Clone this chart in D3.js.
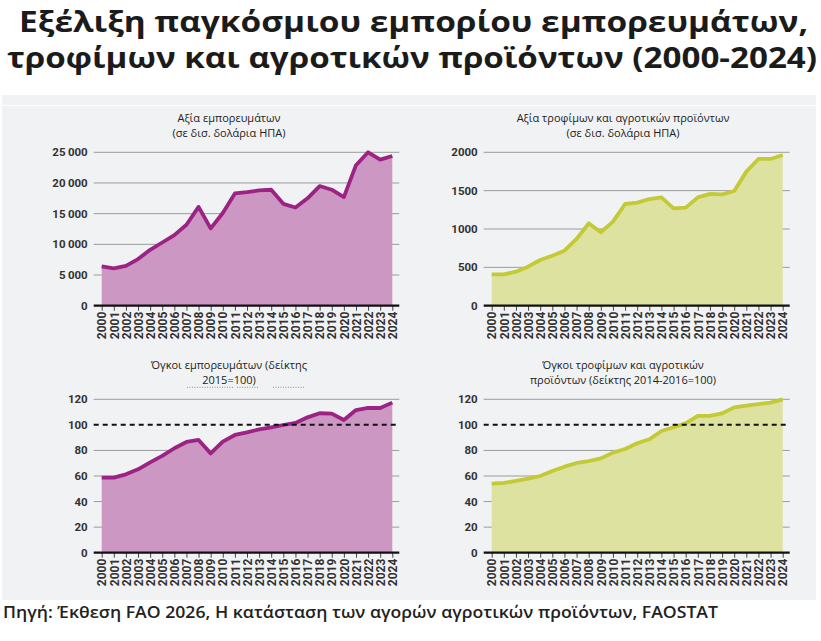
<!DOCTYPE html>
<html>
<head>
<meta charset="utf-8">
<script src="https://cdn.jsdelivr.net/npm/d3@7"></script>
<style>
  body { margin: 0; background: #fff; }
  svg { display: block; }
</style>
</head>
<body>
<div id="chart"></div>
<script>
/*
 * Data.
 */
var years = d3.range(2000, 2025)
  , goodsValue = [6400, 6100, 6500, 7600, 9100, 10300, 11500, 13200, 16100, 12600,
      15100, 18300, 18500, 18800, 18900, 16600, 16000, 17500, 19500, 18900,
      17700, 22900, 25000, 23800, 24400]
  , agriValue = [409, 409, 443, 509, 596, 652, 717, 870, 1074, 957,
      1096, 1326, 1343, 1391, 1413, 1270, 1278, 1413, 1457, 1452,
      1496, 1748, 1913, 1913, 1965]
  , goodsVolume = [58.7, 58.7, 61.3, 65.2, 70.7, 75.7, 81.7, 86.6, 88.2, 77.7,
      86.9, 92.1, 94.2, 96.5, 98.1, 99.9, 101.5, 105.9, 109.1, 108.8,
      103.8, 111.6, 113.2, 113.2, 117.4]
  , agriVolume = [54, 54.6, 56.1, 57.9, 60, 63.9, 67.3, 70.2, 71.7, 73.8,
      78.3, 81.1, 85.6, 88.7, 95.2, 98.1, 101.2, 107, 107, 109,
      113.7, 115, 116.3, 117.4, 120];

var valueTicks = [0, 5000, 10000, 15000, 20000, 25000]
  , agriTicks = [0, 500, 1000, 1500, 2000]
  , indexTicks = [0, 20, 40, 60, 80, 100, 120];

var width = 821
  , height = 641
  , purple = { fill: '#cd97c4', line: '#9c2384' }
  , green = { fill: '#dde2a0', line: '#c3ca36' }
  , numFont = '"Liberation Sans Narrow", "Roboto", sans-serif';

var svg = d3.select('#chart').append('svg')
  .attr('width', width)
  .attr('height', height);

/*
 * Background.
 */
svg.append('rect')
  .attr('x', 2).attr('y', 95)
  .attr('width', 814).attr('height', 505)
  .attr('fill', '#f1f2f3');

svg.append('line')
  .attr('x1', 2).attr('x2', 816)
  .attr('y1', 105.5).attr('y2', 105.5)
  .attr('stroke', '#fff').attr('stroke-width', 1.2);

/*
 * Title and source.
 */
var title = ['Εξέλιξη παγκόσμιου εμπορίου εμπορευμάτων,',
  'τροφίμων και αγροτικών προϊόντων (2000-2024)'];

svg.selectAll('text.title')
  .data(title)
  .enter()
  .append('text')
  .attr('class', 'title')
  .attr('x', function(d, i) { return i ? 7 : 19; })
  .attr('y', function(d, i) { return i ? 68 : 32; })
  .attr('textLength', function(d, i) { return i ? 810 : 789; })
  .attr('lengthAdjust', 'spacingAndGlyphs')
  .style('font-family', '"Open Sans", sans-serif')
  .style('font-weight', 700)
  .style('font-size', '29px')
  .style('fill', '#1b1b1b')
  .text(function(d) { return d; });

svg.append('text')
  .attr('x', 3)
  .attr('y', 618)
  .attr('textLength', 715)
  .attr('lengthAdjust', 'spacingAndGlyphs')
  .style('font-family', '"Open Sans", sans-serif')
  .style('font-weight', 600)
  .style('font-size', '15.5px')
  .style('fill', '#222')
  .text('Πηγή: Έκθεση FAO 2026, Η κατάσταση των αγορών αγροτικών προϊόντων, FAOSTAT');

/*
 * The four panels.
 */
var panels = [
  { values: goodsValue, ticks: valueTicks, max: 25000, colors: purple,
    left: 101.7, right: 392.3, top: 152.3, bottom: 305.7, cx: 229,
    title: ['Αξία εμπορευμάτων', '(σε δισ. δολάρια ΗΠΑ)'], fmt: 'space' },
  { values: agriValue, ticks: agriTicks, max: 2000, colors: green,
    left: 491.7, right: 782.7, top: 152.3, bottom: 305.7, cx: 623,
    title: ['Αξία τροφίμων και αγροτικών προϊόντων', '(σε δισ. δολάρια ΗΠΑ)'] },
  { values: goodsVolume, ticks: indexTicks, max: 120, colors: purple,
    left: 101.7, right: 392.3, top: 399.3, bottom: 552.7, cx: 229,
    title: ['Όγκοι εμπορευμάτων (δείκτης', '2015=100)'], ref: 100, smudge: true },
  { values: agriVolume, ticks: indexTicks, max: 120, colors: green,
    left: 491.7, right: 782.7, top: 399.3, bottom: 552.7, cx: 623,
    title: ['Όγκοι τροφίμων και αγροτικών', 'προϊόντων (δείκτης 2014-2016=100)'], ref: 100 }
];

panels.forEach(drawPanel);

function drawPanel(p) {
  var x = d3.scaleLinear().domain([2000, 2024]).range([p.left, p.right])
    , y = d3.scaleLinear().domain([0, p.max]).range([p.bottom, p.top])
    , x0 = p.left - 8
    , x1 = p.right + 7
    , g = svg.append('g');

  // Chart title, two lines
  g.selectAll('text.ptitle')
    .data(p.title)
    .enter()
    .append('text')
    .attr('x', p.cx)
    .attr('y', function(d, i) { return p.top - 30.5 + i * 15.5; })
    .attr('text-anchor', 'middle')
    .style('font-family', '"Open Sans", sans-serif')
    .style('font-size', '11px')
    .style('fill', '#222')
    .text(function(d) { return d; });

  if (p.smudge) {
    // faint dotted leftover under the title, as in the scan
    [[187, 233], [237, 258], [273, 304]].forEach(function(s) {
      g.append('line')
        .attr('x1', s[0]).attr('x2', s[1])
        .attr('y1', p.top - 12).attr('y2', p.top - 12)
        .attr('stroke', '#777').attr('stroke-width', 0.8)
        .attr('stroke-dasharray', '1,1.5');
    });
  }

  // Grid lines
  g.selectAll('line.grid')
    .data(p.ticks.filter(function(t) { return t > 0 && t !== p.ref; }))
    .enter()
    .append('line')
    .attr('x1', x0).attr('x2', x1)
    .attr('y1', function(d) { return y(d); })
    .attr('y2', function(d) { return y(d); })
    .attr('stroke', '#9b9b9b')
    .attr('stroke-width', 1);

  // Area and line
  var area = d3.area()
    .x(function(d, i) { return x(years[i]); })
    .y0(y(0))
    .y1(function(d) { return y(d); });

  var line = d3.line()
    .x(function(d, i) { return x(years[i]); })
    .y(function(d) { return y(d); });

  g.append('path')
    .attr('d', area(p.values))
    .attr('fill', p.colors.fill);

  g.append('path')
    .attr('d', line(p.values))
    .attr('fill', 'none')
    .attr('stroke', p.colors.line)
    .attr('stroke-width', 3.8)
    .attr('stroke-linejoin', 'round');

  // Reference line at 100
  if (p.ref) {
    g.append('line')
      .attr('x1', x0).attr('x2', x1)
      .attr('y1', y(p.ref)).attr('y2', y(p.ref))
      .attr('stroke', '#111')
      .attr('stroke-width', 2)
      .attr('stroke-dasharray', '5,4');
  }

  // Y tick labels
  var fmt = p.fmt === 'space'
    ? function(d) { return d >= 1000 ? d3.format(',')(d).replace(/,/g, '\u2009') : d; }
    : function(d) { return d; };

  g.selectAll('text.ylab')
    .data(p.ticks)
    .enter()
    .append('text')
    .attr('x', x0 - 6)
    .attr('y', function(d) { return y(d); })
    .attr('dy', '0.35em')
    .attr('text-anchor', 'end')
    .style('font-family', numFont)
    .style('font-size', '11.5px')
    .style('font-weight', 700)
    .style('fill', '#333')
    .text(fmt);

  // X axis
  var axis = d3.axisBottom(x)
    .tickValues(years)
    .tickSize(5)
    .tickPadding(3)
    .tickFormat(d3.format('d'));

  var ax = g.append('g')
    .attr('transform', 'translate(0,' + p.bottom + ')')
    .call(axis);

  ax.select('.domain').remove();
  ax.selectAll('.tick line').attr('stroke', '#444');
  ax.selectAll('.tick text')
    .attr('transform', 'rotate(-90)')
    .attr('x', -6)
    .attr('y', 0)
    .attr('dy', '0.35em')
    .attr('text-anchor', 'end')
    .style('font-family', numFont)
    .style('font-size', '12px')
    .style('font-weight', 700)
    .style('fill', '#333');

  g.append('line')
    .attr('x1', x0).attr('x2', x1)
    .attr('y1', p.bottom).attr('y2', p.bottom)
    .attr('stroke', '#111')
    .attr('stroke-width', 2.2);
}
</script>
</body>
</html>
